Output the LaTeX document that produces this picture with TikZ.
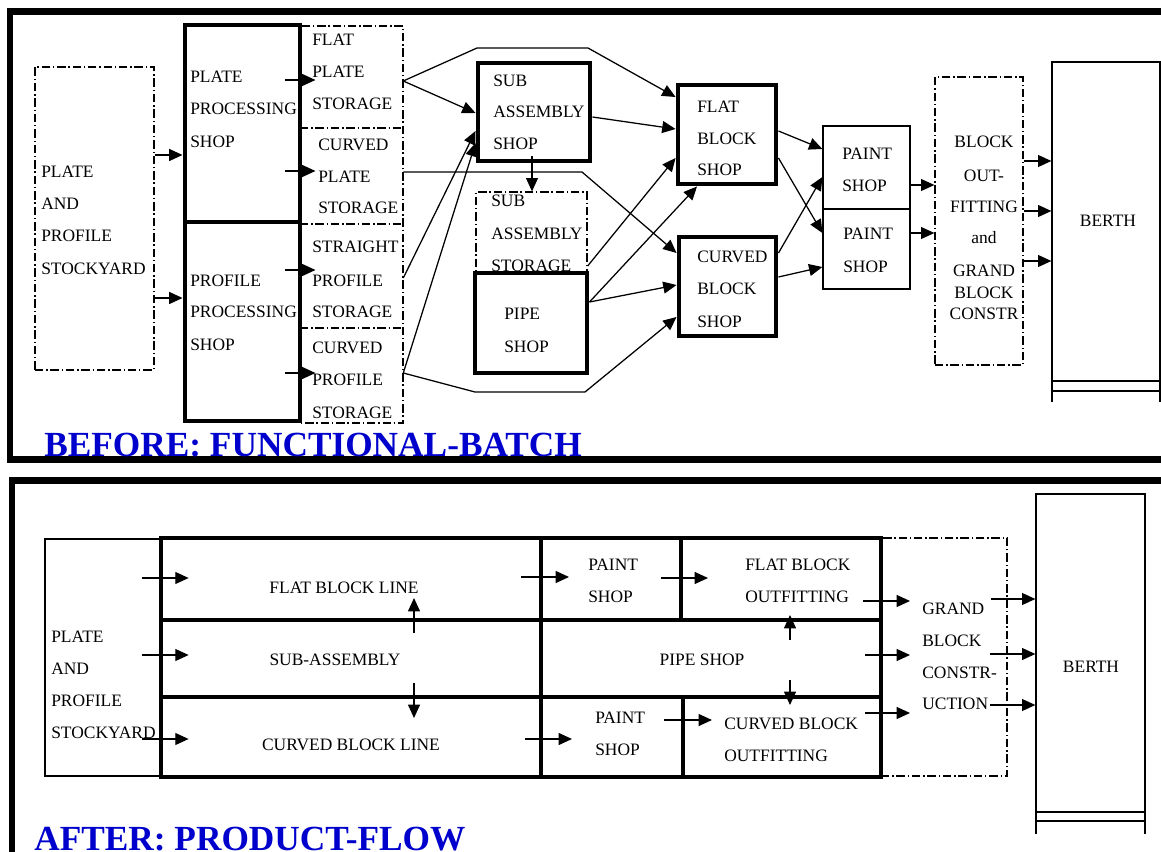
\documentclass[tikz,border=0pt]{standalone}
\usepackage{fontspec}
\setmainfont{Liberation Serif}
\usetikzlibrary{arrows.meta,fit}
\definecolor{titleblue}{RGB}{0,0,204}

\begin{document}
\begin{tikzpicture}[x=0.025cm,y=-0.025cm,
	txt/.style={anchor=base west,inner sep=0pt,font=\fontsize{12.4}{14}\selectfont},
	ctxt/.style={txt,anchor=base},
	shop/.style={draw,line width=3.5pt,fill=white,inner sep=0pt,fit={#1}},
	thinbox/.style={draw,line width=0.9pt,inner sep=0pt,fit={#1}},
	dd/.style={line width=0.9pt,dash pattern=on 6pt off 2pt on 1pt off 2pt},
	ddbox/.style={draw,dd,inner sep=0pt,fit={#1}},
	flow/.style={-{Triangle[length=9.5pt,width=8.5pt]},line width=0.9pt},
	heading/.style={anchor=base west,inner sep=0pt,text=titleblue,font=\fontsize{25.1}{28}\selectfont\bfseries},
	panel/.style={line width=4.5pt}]
	\useasboundingbox (0,0) rectangle (1161,852);
	\draw[panel] (10,11.5) rectangle (1185,459.5);
	\draw[panel] (12,480.5) rectangle (1185,890);

	% before: stockyard and processing shops
	\node[ddbox={(35,67) (154,370)}] (yard) {};
	\foreach \t/\y in {PLATE/178,AND/210,PROFILE/242,STOCKYARD/275} \node[txt] (yard-\y) at (41,\y) {\t};
	\draw[dd] (300,26) rectangle (403,423);
	\foreach \y in {128,224,328} \draw[dd] (300,\y) -- (403,\y);
	\node[inner sep=0pt,fit={(300,26) (403,128)}] (fpstore) {};
	\node[inner sep=0pt,fit={(300,128) (403,224)}] (cpstore) {};
	\node[inner sep=0pt,fit={(300,224) (403,328)}] (spstore) {};
	\node[inner sep=0pt,fit={(300,328) (403,423)}] (crstore) {};
	\node[shop={(185,25) (300,222)}] (ppshop) {};
	\node[shop={(185,222) (300,421)}] (prshop) {};
	\foreach \t/\y in {PLATE/83,PROCESSING/115,SHOP/148} \node[txt] (pp-\y) at (190,\y) {\t};
	\foreach \t/\y in {PROFILE/287,PROCESSING/318,SHOP/350} \node[txt] (pr-\y) at (190,\y) {\t};
	\foreach \t/\y in {FLAT/46,PLATE/78,STORAGE/110} \node[txt] (fp-\y) at (312,\y) {\t};
	\foreach \t/\y in {CURVED/151,PLATE/183,STORAGE/214} \node[txt] (cp-\y) at (318,\y) {\t};
	\foreach \t/\y in {STRAIGHT/253,PROFILE/286,STORAGE/318} \node[txt] (sp-\y) at (312,\y) {\t};
	\foreach \t/\y in {CURVED/353,PROFILE/385,STORAGE/418} \node[txt] (cr-\y) at (312,\y) {\t};

	% before: sub assembly, pipe and block shops
	\node[shop={(478,63) (590,161)}] (sashop) {};
	\foreach \t/\y in {SUB/87,ASSEMBLY/118,SHOP/150} \node[txt] (sa-\y) at (493,\y) {\t};
	\node[ddbox={(476,192) (587,290)}] (sastore) {};
	\foreach \t/\y in {SUB/207,ASSEMBLY/240,STORAGE/272} \node[txt] (ss-\y) at (491,\y) {\t};
	\node[shop={(475,273) (587,373)}] (pipe) {};
	\foreach \t/\y in {PIPE/319,SHOP/352} \node[txt] (pi-\y) at (504,\y) {\t};
	\node[shop={(678,85) (776,184)}] (fbshop) {};
	\foreach \t/\y in {FLAT/113,BLOCK/145,SHOP/176} \node[txt] (fb-\y) at (697,\y) {\t};
	\node[shop={(679,237) (776,336)}] (cbshop) {};
	\foreach \t/\y in {CURVED/263,BLOCK/295,SHOP/327} \node[txt] (cb-\y) at (697,\y) {\t};

	% before: paint, outfitting, berth
	\node[thinbox={(823,126) (910,209)}] (paint1) {};
	\node[thinbox={(823,209) (910,289)}] (paint2) {};
	\foreach \t/\y in {PAINT/160,SHOP/192} \node[txt] (pa1-\y) at (842,\y) {\t};
	\foreach \t/\y in {PAINT/240,SHOP/273} \node[txt] (pa2-\y) at (843,\y) {\t};
	\node[ddbox={(935,77) (1023,365)}] (outfit) {};
	\foreach \t/\y in {BLOCK/148,OUT-/182,FITTING/213,and/244,GRAND/277,BLOCK/299,CONSTR/320} \node[ctxt] (of-\y) at (984,\y) {\t};
	\node[thinbox={(1052,62) (1160,381)}] (berth1) {};
	\draw[line width=0.9pt] (1052,381) -- (1052,402) (1160,381) -- (1160,402) (1052,391) -- (1160,391);
	\node[ctxt] (berth1-t) at (1108,227) {BERTH};

	% before: flows
	\draw[flow] (yard.east |- 0,155) -- (ppshop.west |- 0,155);
	\draw[flow] (yard.east |- 0,298) -- (prshop.west |- 0,298);
	\foreach \y in {80,171} \draw[flow] (ppshop.east |- 0,\y) ++(-17,0) -- ++(30,0);
	\foreach \y in {270,373} \draw[flow] (prshop.east |- 0,\y) ++(-17,0) -- ++(30,0);
	\draw[flow] (fpstore.east |- 0,81) -- (477,48) -- (588,48) -- (fbshop.west |- 0,97);
	\draw[flow] (fpstore.east |- 0,81) -- (sashop.west |- 0,113);
	\draw[flow] (sashop.east |- 0,117) -- (fbshop.west |- 0,129);
	\draw[flow] (cpstore.east |- 0,172) -- (582,172) -- (cbshop.west |- 0,253);
	\draw[flow] (spstore.east |- 0,278) -- (sashop.west |- 0,131);
	\draw[flow] (crstore.east |- 0,373) -- (sashop.west |- 0,143);
	\draw[flow] (crstore.east |- 0,373) -- (475,392) -- (585,392) -- (cbshop.west |- 0,317);
	\draw[flow] (532,156) -- (sastore.north -| 532,0);
	\draw[flow] (sastore.east |- 0,266) -- (fbshop.west |- 0,158);
	\draw[flow] (pipe.east |- 0,302) -- (fbshop.south -| 697,0);
	\draw[flow] (pipe.east |- 0,302) -- (cbshop.west |- 0,285);
	\draw[flow] (fbshop.east |- 0,131) -- (paint1.west |- 0,149);
	\draw[flow] (fbshop.east |- 0,158) -- (paint2.west |- 0,233);
	\draw[flow] (cbshop.east |- 0,253) -- (paint1.west |- 0,177);
	\draw[flow] (cbshop.east |- 0,277) -- (paint2.west |- 0,267);
	\draw[flow] (paint1.east |- 0,185) -- (outfit.west |- 0,185);
	\draw[flow] (paint2.east |- 0,233) -- (outfit.west |- 0,233);
	\foreach \y in {161,211,261} \draw[flow] (outfit.east |- 0,\y) -- (berth1.west |- 0,\y);
	\node[heading] (before) at (44,456) {BEFORE: FUNCTIONAL-BATCH};

	% after: product lines
	\node[thinbox={(45,539) (161,776)}] (yard2) {};
	\foreach \t/\y in {PLATE/642,AND/674,PROFILE/706,STOCKYARD/738} \node[txt] (yard2-\y) at (51,\y) {\t};
	\node[shop={(161,538) (541,620)}] (flatline) {};
	\node[shop={(161,620) (541,697)}] (subasm) {};
	\node[shop={(161,697) (541,777)}] (curvline) {};
	\node[shop={(541,538) (681,620)}] (painta) {};
	\node[shop={(681,538) (881,620)}] (flatout) {};
	\node[shop={(541,620) (881,697)}] (pipe2) {};
	\node[shop={(541,697) (683,777)}] (paintb) {};
	\node[shop={(683,697) (881,777)}] (curvout) {};
	\node[ctxt] (flatline-t) at (344,593) {FLAT BLOCK LINE};
	\node[ctxt] (subasm-t) at (335,665) {SUB-ASSEMBLY};
	\node[ctxt] (curvline-t) at (351,750) {CURVED BLOCK LINE};
	\foreach \t/\y in {PAINT/570,SHOP/602} \node[txt] (pta-\y) at (588,\y) {\t};
	\foreach \t/\y in {FLAT BLOCK/570,OUTFITTING/602} \node[txt] (fo-\y) at (745,\y) {\t};
	\node[ctxt] (pipe2-t) at (702,665) {PIPE SHOP};
	\foreach \t/\y in {PAINT/723,SHOP/755} \node[txt] (ptb-\y) at (595,\y) {\t};
	\foreach \t/\y in {CURVED BLOCK/729,OUTFITTING/761} \node[txt] (co-\y) at (724,\y) {\t};
	\node[ddbox={(881,538) (1007,776)}] (grand) {};
	\foreach \t/\y in {GRAND/614,BLOCK/646,CONSTR-/678,UCTION/709} \node[txt] (gb-\y) at (922,\y) {\t};
	\node[thinbox={(1036,494) (1145,812)}] (berth2) {};
	\draw[line width=0.9pt] (1036,812) -- (1036,834) (1145,812) -- (1145,834) (1036,821) -- (1145,821);
	\node[ctxt] (berth2-t) at (1091,672) {BERTH};

	% after: flows
	\foreach \y in {578,655,739} \draw[flow] (yard2.east |- 0,\y) ++(-20,0) -- ++(47,0);
	\draw[flow] (414,633) -- (414,598);
	\draw[flow] (414,683) -- (414,718);
	\draw[flow] (521,577) -- (569,577);
	\draw[flow] (525,739) -- (572,739);
	\draw[flow] (661,578) -- (708,578);
	\draw[flow] (664,720) -- (712,720);
	\draw[flow] (790,640) -- (790,615);
	\draw[flow] (790,680) -- (790,705);
	\foreach \x/\y in {863/601,865/655,865/713} \draw[flow] (\x,\y) -- (910,\y);
	\foreach \x/\y in {991/599,990/654,990/705} \draw[flow] (\x,\y) -- (berth2.west |- 0,\y);
	\node[heading] (after) at (34,850) {AFTER: PRODUCT-FLOW};
\end{tikzpicture}
\end{document}
